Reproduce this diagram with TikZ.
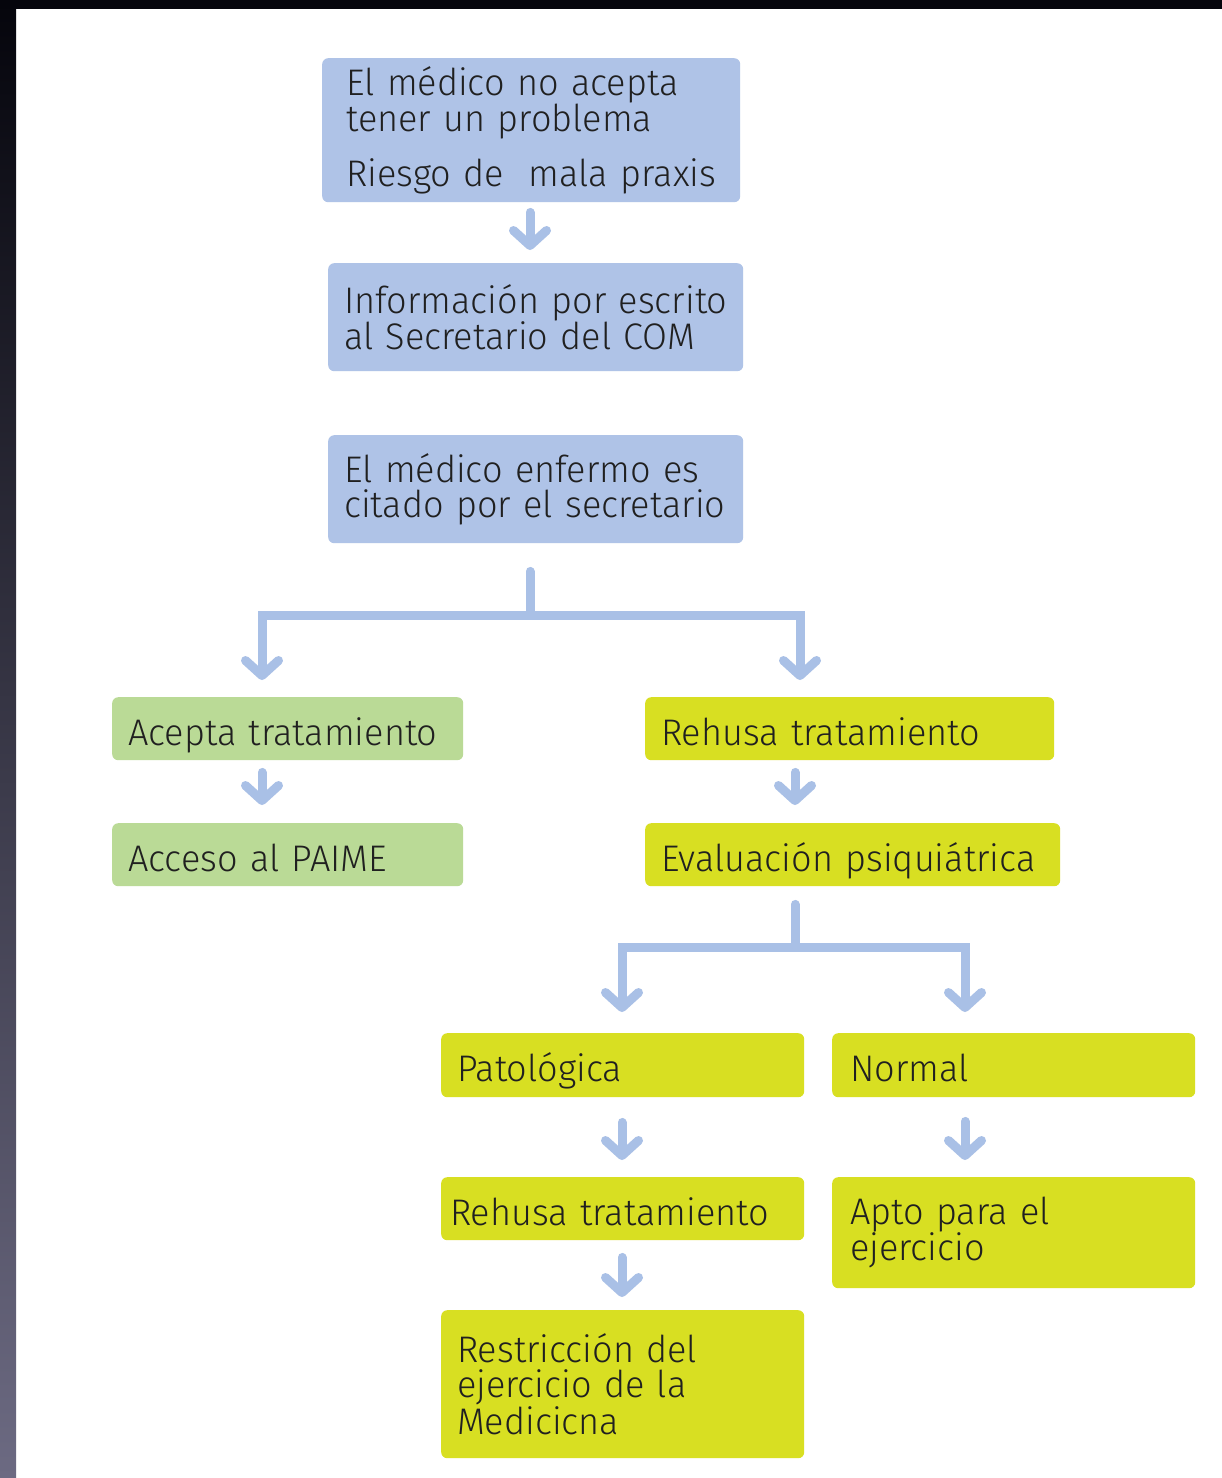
\documentclass[tikz,border=0pt]{standalone}
\usepackage{fontspec}
\setmainfont{Fira Sans}[UprightFont=* Light, FakeStretch=0.975]
\usetikzlibrary{arrows.meta}
\definecolor{bblue}{HTML}{AFC3E7}
\definecolor{aline}{HTML}{A9C0E6}
\definecolor{bgreen}{HTML}{BADA96}
\definecolor{byel}{HTML}{D8DF22}
\definecolor{txt}{HTML}{202020}
\definecolor{frametop}{HTML}{05050C}
\definecolor{framemid}{HTML}{2E2D55}
\definecolor{framebot}{HTML}{6C6A82}
\newcommand{\fline}[1]{\mbox{#1}}
\tikzset{
  bx/.style={rectangle, rounded corners=6pt, inner ysep=0pt, anchor=north west,
    align=left, text=txt, font=\fontsize{37}{35}\selectfont},
  one/.style={text height=33pt, text depth=0pt},
  flow/.style={draw=aline, line width=9pt, line cap=round},
  arr/.style={flow, -{Straight Barb[length=15pt,width=33pt,round]}},
  darr/.style={flow, line join=miter, {Straight Barb[length=15pt,width=33pt,round]}-{Straight Barb[length=15pt,width=33pt,round]}}
}
\begin{document}
\begin{tikzpicture}[x=1pt,y=-1pt]
\useasboundingbox (0,0) rectangle (1222,1478);
\fill[white] (0,0) rectangle (1222,1478);
\shade[top color=frametop, middle color=framemid, bottom color=framebot] (0,0) rectangle (16,1478);
\fill[frametop] (0,0) rectangle (1222,9);

\node[bx, fill=bblue, minimum width=418pt, minimum height=144pt, inner xsep=24pt, text width=370pt] (b1) at (322,58)
  {\fline{El médico no acepta}\\\fline{tener un problema}\\[18pt]\fline{Riesgo de~ mala praxis}};
\node[bx, fill=bblue, minimum width=415pt, minimum height=108pt, inner xsep=16pt, text width=383pt] (b2) at (328,263)
  {\fline{Información por escrito}\\\fline{al Secretario del COM}};
\node[bx, fill=bblue, minimum width=415pt, minimum height=108pt, inner xsep=16pt, text width=383pt] (b3) at (328,435)
  {\fline{El médico enfermo es}\\\fline{citado por el secretario}};
\node[bx, one, fill=bgreen, minimum width=351pt, minimum height=63pt, inner xsep=16pt, text width=319pt] (acc) at (112,697)
  {\fline{Acepta tratamiento}};
\node[bx, one, fill=bgreen, minimum width=351pt, minimum height=63pt, inner xsep=16pt, text width=319pt] (paime) at (112,823)
  {\fline{Acceso al PAIME}};
\node[bx, one, fill=byel, minimum width=409pt, minimum height=63pt, inner xsep=16pt, text width=377pt] (reh) at (645,697)
  {\fline{Rehusa tratamiento}};
\node[bx, one, fill=byel, minimum width=415pt, minimum height=63pt, inner xsep=16pt, text width=383pt] (eval) at (645,823)
  {\fline{Evaluación psiquiátrica}};
\node[bx, one, fill=byel, minimum width=363pt, minimum height=64pt, inner xsep=16pt, text width=331pt] (pat) at (441,1033)
  {\fline{Patológica}};
\node[bx, one, fill=byel, minimum width=363pt, minimum height=64pt, inner xsep=18pt, text width=327pt] (nor) at (832,1033)
  {\fline{Normal}};
\node[bx, one, fill=byel, minimum width=363pt, minimum height=63pt, inner xsep=9pt, text width=345pt] (reh2) at (441,1177)
  {\fline{Rehusa tratamiento}};
\node[bx, fill=byel, minimum width=363pt, minimum height=111pt, inner xsep=18pt, text width=327pt] (apto) at (832,1177)
  {\fline{Apto para el}\\\fline{ejercicio}};
\node[bx, fill=byel, minimum width=363pt, minimum height=148pt, inner xsep=16pt, text width=331pt] (rest) at (441,1310)
  {\fline{Restricción del}\\\fline{ejercicio de la}\\\fline{Medicicna}};

\coordinate (j1) at (530,615);
\coordinate (jL) at (262,615);
\coordinate (jR) at (800,615);
\coordinate (j2) at (795,947);
\coordinate (kL) at (622,947);
\coordinate (kR) at (965,947);

\draw[arr, shorten <=10pt, shorten >=13pt] (b1.south -| j1) -- (b2.north -| j1);
\draw[flow, shorten <=28pt] (b3.south -| j1) -- (j1);
\draw[darr, shorten <=17pt, shorten >=17pt] (acc.north -| jL) -- (jL) -- (jR) -- (reh.north -| jR);
\draw[arr, shorten <=12pt, shorten >=18pt] (acc.south -| jL) -- (paime.north -| jL);
\draw[arr, shorten <=12pt, shorten >=18pt] (reh.south -| j2) -- (eval.north -| j2);
\draw[flow, shorten <=18pt] (eval.south -| j2) -- (j2);
\draw[darr, shorten <=21pt, shorten >=21pt] (pat.north -| kL) -- (kL) -- (kR) -- (nor.north -| kR);
\draw[arr, shorten <=25pt, shorten >=17pt] (pat.south -| kL) -- (reh2.north -| kL);
\draw[arr, shorten <=24pt, shorten >=17pt] (nor.south -| kR) -- (apto.north -| kR);
\draw[arr, shorten <=17pt, shorten >=13pt] (reh2.south -| kL) -- (rest.north -| kL);
\end{tikzpicture}
\end{document}
